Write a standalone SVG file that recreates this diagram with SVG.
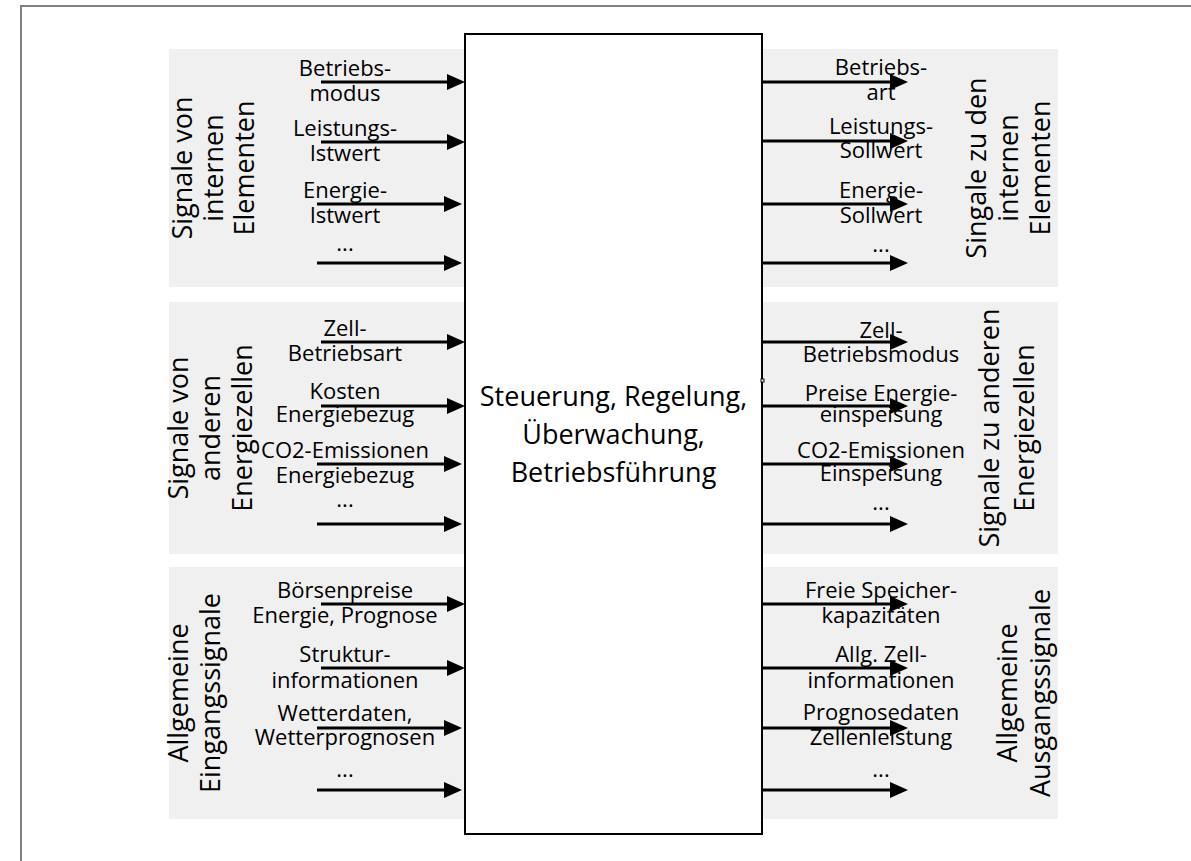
<svg xmlns="http://www.w3.org/2000/svg" width="1191" height="861" viewBox="0 0 1191 861">
<style>
.frame{fill:none;stroke:#808080;stroke-width:2}
.panel{fill:#f0f0f0;stroke:none}
.box{fill:#fff;stroke:#000;stroke-width:2}
.lbl{font-family:"Open Sans",sans-serif;font-size:22px;text-anchor:middle;fill:#000}
.ttl{font-family:"Open Sans",sans-serif;font-size:27px;text-anchor:middle;fill:#000}
.arr{stroke:#000;stroke-width:3;fill:none;marker-end:url(#ah)}
</style>
<defs>
<marker id="ah" viewBox="0 0 18 16" markerWidth="18" markerHeight="16" refX="14" refY="8" markerUnits="userSpaceOnUse" orient="auto">
<path d="M0,0 L18,8 L0,16 Z" fill="#000"/>
</marker>
</defs>
<rect width="1191" height="861" fill="#fff"/>
<path class="frame" d="M21,861 L21,6 L1191,6"/>

<g id="panel-in-internal">
<rect class="panel" x="169" y="49" width="296" height="238"/>
<g transform="translate(0,168) rotate(-90)">
<text class="ttl" x="0" y="192">Signale von</text>
<text class="ttl" x="0" y="223">internen</text>
<text class="ttl" x="0" y="254">Elementen</text>
</g>
<text class="lbl" x="345" y="76">Betriebs-</text>
<text class="lbl" x="345" y="101">modus</text>
<text class="lbl" x="345" y="136">Leistungs-</text>
<text class="lbl" x="345" y="161">Istwert</text>
<text class="lbl" x="345" y="198">Energie-</text>
<text class="lbl" x="345" y="223">Istwert</text>
<text class="lbl" x="345" y="251">...</text>
</g>

<g id="panel-out-internal">
<rect class="panel" x="762" y="49" width="296" height="238"/>
<g transform="translate(0,168) rotate(-90)">
<text class="ttl" x="0" y="986">Singale zu den</text>
<text class="ttl" x="0" y="1018">internen</text>
<text class="ttl" x="0" y="1050">Elementen</text>
</g>
<text class="lbl" x="881" y="75">Betriebs-</text>
<text class="lbl" x="881" y="100">art</text>
<text class="lbl" x="881" y="134">Leistungs-</text>
<text class="lbl" x="881" y="158">Sollwert</text>
<text class="lbl" x="881" y="198">Energie-</text>
<text class="lbl" x="881" y="223">Sollwert</text>
<text class="lbl" x="881" y="252">...</text>
</g>

<g id="panel-in-cells">
<rect class="panel" x="169" y="302" width="296" height="252"/>
<g transform="translate(0,428) rotate(-90)">
<text class="ttl" x="0" y="188">Signale von</text>
<text class="ttl" x="0" y="220">anderen</text>
<text class="ttl" x="0" y="252">Energiezellen</text>
</g>
<text class="lbl" x="345" y="336">Zell-</text>
<text class="lbl" x="345" y="361">Betriebsart</text>
<text class="lbl" x="345" y="399">Kosten</text>
<text class="lbl" x="345" y="422">Energiebezug</text>
<text class="lbl" x="345" y="458">CO2-Emissionen</text>
<text class="lbl" x="345" y="483">Energiebezug</text>
<text class="lbl" x="345" y="507">...</text>
</g>

<g id="panel-out-cells">
<rect class="panel" x="762" y="302" width="296" height="252"/>
<g transform="translate(0,428) rotate(-90)">
<text class="ttl" x="0" y="999">Signale zu anderen</text>
<text class="ttl" x="0" y="1034">Energiezellen</text>
</g>
<text class="lbl" x="881" y="338">Zell-</text>
<text class="lbl" x="881" y="362">Betriebsmodus</text>
<text class="lbl" x="881" y="401">Preise Energie-</text>
<text class="lbl" x="881" y="422">einspeisung</text>
<text class="lbl" x="881" y="458">CO2-Emissionen</text>
<text class="lbl" x="881" y="481">Einspeisung</text>
<text class="lbl" x="881" y="510">...</text>
</g>

<g id="panel-in-general">
<rect class="panel" x="169" y="567" width="296" height="252"/>
<g transform="translate(0,693) rotate(-90)">
<text class="ttl" x="0" y="188">Allgemeine</text>
<text class="ttl" x="0" y="220">Eingangssignale</text>
</g>
<text class="lbl" x="345" y="598">Börsenpreise</text>
<text class="lbl" x="345" y="623">Energie, Prognose</text>
<text class="lbl" x="345" y="662">Struktur-</text>
<text class="lbl" x="345" y="688">informationen</text>
<text class="lbl" x="345" y="721">Wetterdaten,</text>
<text class="lbl" x="345" y="745">Wetterprognosen</text>
<text class="lbl" x="345" y="777">...</text>
</g>

<g id="panel-out-general">
<rect class="panel" x="762" y="567" width="296" height="252"/>
<g transform="translate(0,693) rotate(-90)">
<text class="ttl" x="0" y="1017">Allgemeine</text>
<text class="ttl" x="0" y="1050">Ausgangssignale</text>
</g>
<text class="lbl" x="881" y="598">Freie Speicher-</text>
<text class="lbl" x="881" y="623">kapazitäten</text>
<text class="lbl" x="881" y="662">Allg. Zell-</text>
<text class="lbl" x="881" y="688">informationen</text>
<text class="lbl" x="881" y="720">Prognosedaten</text>
<text class="lbl" x="881" y="745">Zellenleistung</text>
<text class="lbl" x="881" y="777">...</text>
</g>

<g id="main-box">
<rect class="box" x="465" y="34" width="297" height="800"/>
<text class="ttl" x="613.5" y="406">Steuerung, Regelung,</text>
<text class="ttl" x="613.5" y="444">Überwachung,</text>
<text class="ttl" x="613.5" y="482">Betriebsführung</text>
<rect x="761" y="379" width="3" height="3" fill="#fff" stroke="#000" stroke-width="1"/>
</g>

<g id="connectors">
<line class="arr" x1="321" y1="82" x2="461" y2="82"/>
<line class="arr" x1="321" y1="142" x2="461" y2="142"/>
<line class="arr" x1="317" y1="204" x2="458" y2="204"/>
<line class="arr" x1="317" y1="263" x2="458" y2="263"/>
<line class="arr" x1="321" y1="342" x2="461" y2="342"/>
<line class="arr" x1="321" y1="406" x2="461" y2="406"/>
<line class="arr" x1="317" y1="464" x2="458" y2="464"/>
<line class="arr" x1="317" y1="524" x2="458" y2="524"/>
<line class="arr" x1="321" y1="604" x2="461" y2="604"/>
<line class="arr" x1="321" y1="668" x2="461" y2="668"/>
<line class="arr" x1="317" y1="728" x2="458" y2="728"/>
<line class="arr" x1="317" y1="790" x2="458" y2="790"/>
<line class="arr" x1="762" y1="82" x2="904" y2="82"/>
<line class="arr" x1="762" y1="141" x2="904" y2="141"/>
<line class="arr" x1="762" y1="204" x2="904" y2="204"/>
<line class="arr" x1="762" y1="263" x2="904" y2="263"/>
<line class="arr" x1="762" y1="342" x2="904" y2="342"/>
<line class="arr" x1="762" y1="406" x2="904" y2="406"/>
<line class="arr" x1="762" y1="464" x2="904" y2="464"/>
<line class="arr" x1="762" y1="524" x2="904" y2="524"/>
<line class="arr" x1="762" y1="604" x2="904" y2="604"/>
<line class="arr" x1="762" y1="668" x2="904" y2="668"/>
<line class="arr" x1="762" y1="728" x2="904" y2="728"/>
<line class="arr" x1="762" y1="790" x2="904" y2="790"/>
</g>
</svg>
